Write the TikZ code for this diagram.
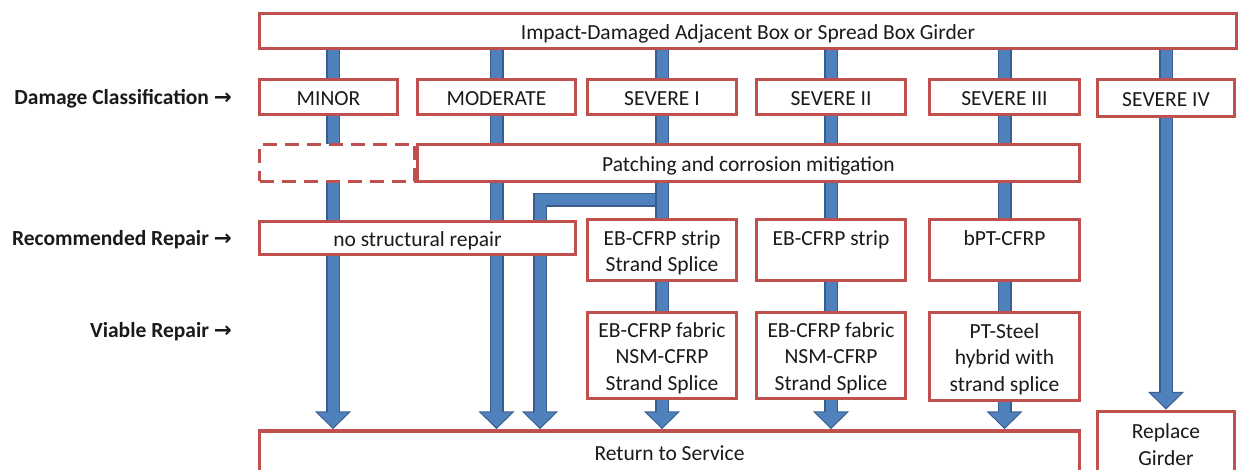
\documentclass[tikz,border=0pt]{standalone}
\usepackage{fontspec}
\setmainfont{Carlito}
\newfontfamily\symfont{DejaVu Sans}
\usetikzlibrary{arrows.meta,calc}
\definecolor{boxred}{HTML}{C0504D}
\definecolor{arrblue}{HTML}{4F81BD}
\definecolor{arrdark}{HTML}{385D8A}
\definecolor{txt}{HTML}{1A1A1A}
\newcommand\toprule{\rule{0pt}{22pt}}
\tikzset{
  box/.style={draw=boxred, line width=3.5pt, fill=white, inner sep=0pt, align=center,
    text=txt, font=\fontsize{21.5}{26.5}\selectfont,
    execute at begin node={\rule{0pt}{22pt}},
    execute at end node={\rule[-5.2pt]{0pt}{5.2pt}}},
  dbox/.style={draw=boxred, line width=3.5pt, fill=white, inner sep=0pt, dash pattern=on 14pt off 8pt},
  lab/.style={font=\bfseries\fontsize{21.5}{24}\selectfont, anchor=east, inner sep=0pt, text=txt},
  arrout/.style={draw=arrdark, line width=14pt, -{Triangle[width=35pt 0 0,length=18pt 0 0]}},
  arrin/.style={draw=arrblue, line width=11pt, shorten >=1.8pt, -{Triangle[width=30pt 0 0,length=15pt 0 0]}},
}
\newcommand\blockarrow[1]{\draw[arrout] #1; \draw[arrin] #1;}
\begin{document}
\begin{tikzpicture}[x=1pt,y=-1pt]
\useasboundingbox (0,0) rectangle (1240,470);
% node positions (drawn again on top of the arrows)
\path
  node[box, minimum width=977, minimum height=35] (top) at (748,31) {}
  node[box, minimum width=138, minimum height=35] (minor) at (328.5,97) {}
  node[box, minimum width=158, minimum height=35] (moderate) at (496.5,97) {}
  node[box, minimum width=149, minimum height=35] (sev1) at (662,97) {}
  node[box, minimum width=149, minimum height=35] (sev2) at (831,97) {}
  node[box, minimum width=150, minimum height=35] (sev3) at (1004.5,97) {}
  node[box, minimum width=137, minimum height=37] (sev4) at (1166,98) {}
  node[box, minimum width=820, minimum height=42] (ret) at (669.5,452) {}
  node[box, minimum width=137, minimum height=64] (repl) at (1166,443.5) {};
% arrows
\coordinate (split) at (662,200);
\coordinate (bend) at (540,200);
\blockarrow{(split) -- (bend) -- (bend |- ret.north)}
\blockarrow{([xshift=4.5pt]top.south -| minor) -- ([xshift=4.5pt]ret.north -| minor)}
\blockarrow{(top.south -| moderate) -- (ret.north -| moderate)}
\blockarrow{(top.south -| sev1) -- (ret.north -| sev1)}
\blockarrow{(top.south -| sev2) -- (ret.north -| sev2)}
\blockarrow{(top.south -| sev3) -- (ret.north -| sev3)}
\blockarrow{(top.south -| sev4) -- (repl.north)}
% boxes on top
\node[box, minimum width=977, minimum height=35] at (top) {Impact-Damaged Adjacent Box or Spread Box Girder};
\node[box, minimum width=138, minimum height=35] at (minor) {MINOR};
\node[box, minimum width=158, minimum height=35] at (moderate) {MODERATE};
\node[box, minimum width=149, minimum height=35] at (sev1) {SEVERE I};
\node[box, minimum width=149, minimum height=35] at (sev2) {SEVERE II};
\node[box, minimum width=150, minimum height=35] at (sev3) {SEVERE III};
\node[box, minimum width=137, minimum height=37] at (sev4) {SEVERE IV};
\node[dbox, minimum width=155, minimum height=37] (none) at (337,163) {};
\node[box, minimum width=662, minimum height=37] (patch) at (748.5,163) {Patching and corrosion mitigation};
\node[box, minimum width=316, minimum height=33] (nsr) at (417.5,238) {no structural repair};
\node[box, minimum width=149, minimum height=61] (rec1) at (662,250) {\toprule EB-CFRP strip\\Strand Splice};
\node[box, minimum width=149, minimum height=61] (rec2) at (831,250) {\toprule EB-CFRP strip\\\mbox{}};
\node[box, minimum width=150, minimum height=61] (rec3) at (1004.5,250) {\toprule bPT-CFRP\\\mbox{}};
\node[box, minimum width=149, minimum height=86] (via1) at (662,355.5) {\toprule EB-CFRP fabric\\NSM-CFRP\\Strand Splice};
\node[box, minimum width=149, minimum height=86] (via2) at (831,355.5) {\toprule EB-CFRP fabric\\NSM-CFRP\\Strand Splice};
\node[box, minimum width=150, minimum height=88] (via3) at (1004.5,356.5) {\toprule PT-Steel\\hybrid with\\strand splice};
\node[box, minimum width=820, minimum height=42] at (ret) {Return to Service};
\node[box, minimum width=137, minimum height=64] at (repl) {\toprule Replace\\Girder};
% row labels
\node[lab] (l1) at (232,99) {Damage Classification {\symfont\bfseries →}};
\node[lab] (l2) at (232,240) {Recommended Repair {\symfont\bfseries →}};
\node[lab] (l3) at (232,332) {Viable Repair {\symfont\bfseries →}};
\end{tikzpicture}
\end{document}
